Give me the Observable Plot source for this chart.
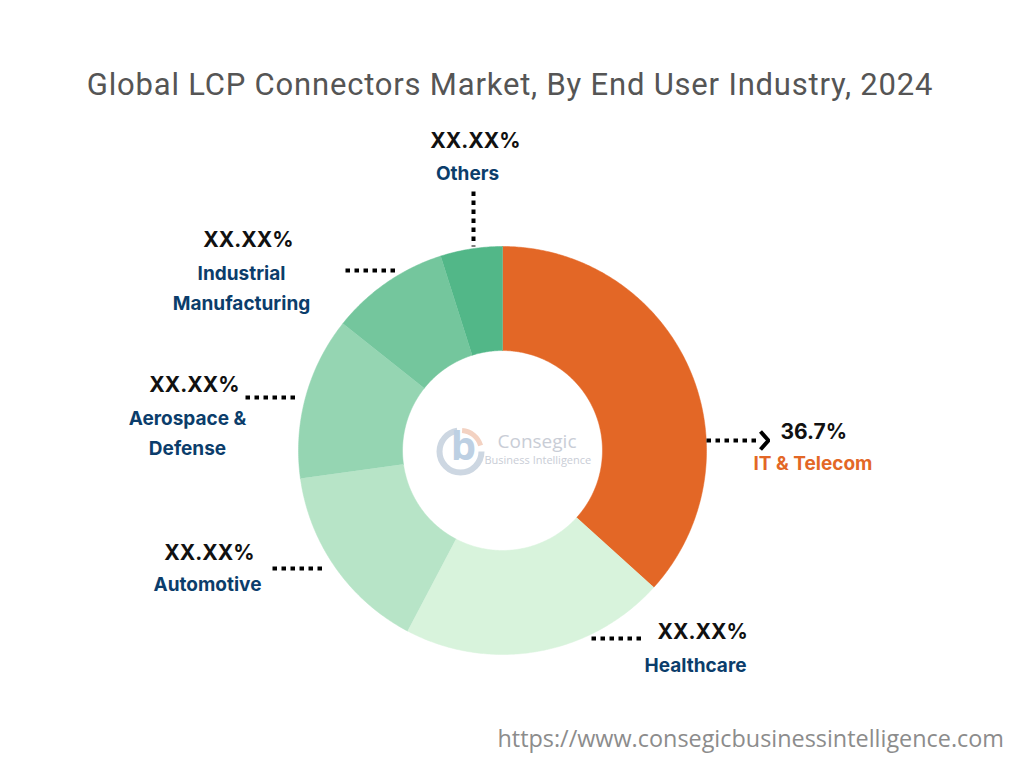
<!DOCTYPE html>
<html>
<head>
<meta charset="utf-8">
<script src="https://cdn.jsdelivr.net/npm/d3@7"></script>
<script src="https://cdn.jsdelivr.net/npm/@observablehq/plot@0.6"></script>
<style>
  body { margin: 0; background: #fff; }
  #wrap { position: relative; width: 1024px; height: 768px; overflow: hidden; background: #fff; }
  #title { position: absolute; left: 0; width: 1020px; top: 66px; text-align: center;
           font-family: "Roboto", sans-serif; font-size: 31px; color: #555; letter-spacing: 0.8px; }
  #footer { position: absolute; right: 20px; top: 722px; font-family: "Open Sans", sans-serif;
            font-size: 23.4px; color: #8c8c8c; }
  #chart { position: absolute; left: 0; top: 0; }
</style>
</head>
<body>
<div id="wrap">
  <div id="chart"></div>
  <div id="title">Global LCP Connectors Market, By End User Industry, 2024</div>
  <div id="footer">https://www.consegicbusinessintelligence.com</div>
</div>
<script>
// ---- data ----
const categories = ["IT & Telecom", "Healthcare", "Automotive", "Aerospace & Defense", "Industrial Manufacturing", "Others"];
const shares = [36.7, 21.0, 15.1, 12.9, 9.4, 4.9];
const valueLabels = ["36.7%", "XX.XX%", "XX.XX%", "XX.XX%", "XX.XX%", "XX.XX%"];
const nameLines = [["IT & Telecom"], ["Healthcare"], ["Automotive"], ["Aerospace &", "Defense"], ["Industrial", "Manufacturing"], ["Others"]];
const colors = ["#E36726", "#D8F3DC", "#B7E4C7", "#95D5B2", "#74C69D", "#52B788"];

// ---- layout (pixels in the 1024x768 frame) ----
const CX = 502, CY = 450, R = 204, INNER = 0.49;
const toU = (px, py) => ({x: (px - CX) / R, y: (CY - py) / R});
const layout = [
  {val: [780, 432], valAnchor: "start", name: [753, 463], nameAnchor: "start", lead: [[706, 440], [756, 440]]},
  {val: [657, 632], valAnchor: "start", name: [695, 665], nameAnchor: "middle", lead: [[591, 638], [645, 638]]},
  {val: [209, 553], valAnchor: "middle", name: [207, 584], nameAnchor: "middle", lead: [[272, 568], [326, 568]]},
  {val: [194, 385], valAnchor: "middle", name: [187, 418], nameAnchor: "middle", lead: [[245, 397], [299, 397]]},
  {val: [248, 240], valAnchor: "middle", name: [241, 273], nameAnchor: "middle", lead: [[345, 270], [399, 270]]},
  {val: [475, 141], valAnchor: "middle", name: [467, 173], nameAnchor: "middle", lead: [[473, 191], [473, 246]]}
];

// ---- slice polygons ----
const total = d3.sum(shares);
const slices = [];
let acc = 0;
categories.forEach((c, i) => {
  const a0 = acc / total * 2 * Math.PI;
  acc += shares[i];
  const a1 = acc / total * 2 * Math.PI;
  const n = Math.max(2, Math.ceil((a1 - a0) / 0.01));
  for (let k = 0; k <= n; k++) {
    const a = a0 + (a1 - a0) * k / n;
    slices.push({category: c, x: Math.sin(a), y: Math.cos(a)});
  }
  for (let k = n; k >= 0; k--) {
    const a = a0 + (a1 - a0) * k / n;
    slices.push({category: c, x: INNER * Math.sin(a), y: INNER * Math.cos(a)});
  }
});

// ---- labels ----
const valTexts = categories.map((c, i) => ({category: c, text: valueLabels[i], ...toU(...layout[i].val), anchor: layout[i].valAnchor}));
const nameTexts = [];
categories.forEach((c, i) => {
  const L = layout[i];
  nameLines[i].forEach((t, j) => {
    nameTexts.push({category: c, text: t, ...toU(L.name[0], L.name[1] + j * 30), anchor: L.nameAnchor, isIT: i === 0});
  });
});
const leaders = layout.map((L, i) => {
  const a = toU(...L.lead[0]), b = toU(...L.lead[1]);
  return {category: categories[i], x1: a.x, y1: a.y, x2: b.x, y2: b.y};
});
const chevron = [toU(760, 431), toU(768, 440), toU(760, 449)];

const labelFont = "Inter, Roboto, sans-serif";
const P = (px, py) => [toU(px, py)];

const chart = Plot.plot({
  width: 1024,
  height: 768,
  margin: 0,
  x: {domain: [-CX / R, (1024 - CX) / R], axis: null},
  y: {domain: [-(768 - CY) / R, CY / R], axis: null},
  color: {domain: categories, range: colors},
  style: {background: "transparent"},
  marks: [
    Plot.line(slices, {x: "x", y: "y", z: "category", fill: "category", stroke: "category", strokeWidth: 0.5, curve: "linear"}),
    // watermark logo
    Plot.dot(P(460, 451), {x: "x", y: "y", r: 21, fill: "none", stroke: "#cdd7e2", strokeWidth: 6, strokeDasharray: "95,200"}),
    Plot.dot(P(460, 451), {x: "x", y: "y", r: 21, fill: "none", stroke: "#f3d2c2", strokeWidth: 5, strokeDasharray: "0,100,25,200"}),
    Plot.text(P(463, 447), {x: "x", y: "y", text: () => "b", fontSize: 40, fontWeight: "bold", fill: "#bdd0e3", fontFamily: "'Open Sans', sans-serif"}),
    Plot.text(P(497, 441), {x: "x", y: "y", text: () => "Consegic", textAnchor: "start", fontSize: 19, fill: "#c9cdd6", fontFamily: "'Open Sans', sans-serif"}),
    Plot.text(P(484, 460), {x: "x", y: "y", text: () => "Business Intelligence", textAnchor: "start", fontSize: 11, fill: "#c9cdd6", fontFamily: "'Open Sans', sans-serif"}),
    // leaders
    Plot.link(leaders, {x1: "x1", y1: "y1", x2: "x2", y2: "y2", stroke: "#000", strokeWidth: 4, strokeDasharray: "4.5,4.5", strokeLinecap: "butt"}),
    Plot.line(chevron, {x: "x", y: "y", stroke: "#000", strokeWidth: 4, strokeLinejoin: "miter", strokeLinecap: "butt"}),
    // texts
    Plot.text(valTexts.filter(d => d.anchor === "start"), {x: "x", y: "y", text: "text", textAnchor: "start", fontSize: 21, fontWeight: "bold", fill: "#111", fontFamily: labelFont}),
    Plot.text(valTexts.filter(d => d.anchor === "middle"), {x: "x", y: "y", text: "text", textAnchor: "middle", fontSize: 21, fontWeight: "bold", fill: "#111", fontFamily: labelFont}),
    Plot.text(nameTexts.filter(d => d.anchor === "start"), {x: "x", y: "y", text: "text", textAnchor: "start", fontSize: 19, fontWeight: "bold", fill: "#E36726", fontFamily: labelFont}),
    Plot.text(nameTexts.filter(d => d.anchor === "middle"), {x: "x", y: "y", text: "text", textAnchor: "middle", fontSize: 19, fontWeight: "bold", fill: "#0B3D6B", fontFamily: labelFont})
  ]
});
document.getElementById("chart").appendChild(chart);
</script>
</body>
</html>
